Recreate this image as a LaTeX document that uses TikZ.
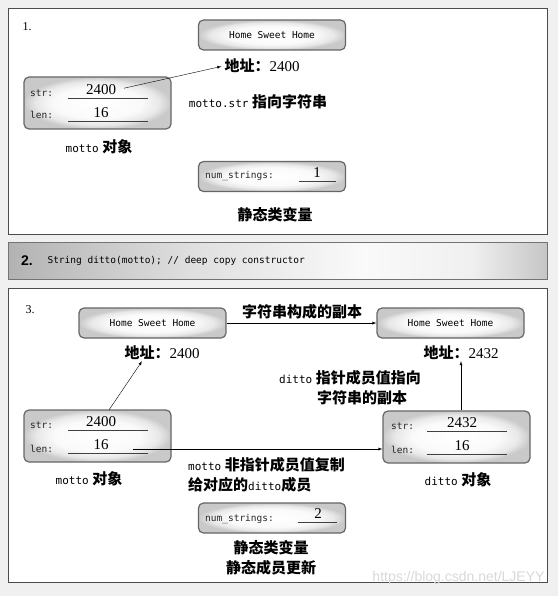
\documentclass[tikz,border=0pt]{standalone}
\usepackage{fontspec}
\setmainfont{Liberation Serif}
\setsansfont{Liberation Sans}
\setmonofont{DejaVu Sans Mono}
\newfontfamily\cjk{Noto Sans CJK SC}
\usetikzlibrary{calc,shapes,positioning}
\pgfdeclareradialshading{boxshade}{\pgfpoint{0bp}{0bp}}{color(0bp)=(white); color(15bp)=(gray!4); color(21bp)=(gray!18); color(25bp)=(gray!42); color(50bp)=(gray!42)}
\pgfdeclarehorizontalshading{barshade}{100bp}{color(0bp)=(gray!60); color(25bp)=(gray!60); color(42bp)=(gray!25); color(58bp)=(gray!4); color(68bp)=(gray!12); color(75bp)=(gray!45); color(100bp)=(gray!45)}
\newcommand\tword[1]{{\ttfamily\mdseries\fontsize{11}{13}\selectfont #1}}
\tikzset{
  panel/.style={draw=black!70, line width=0.9pt, fill=white},
  membox/.style={draw=black!60, line width=1.2pt, rounded corners=5pt, shade, shading=boxshade,
    minimum width=147pt, minimum height=52pt, inner sep=0pt},
  strbox/.style={membox, minimum height=30pt, font=\ttfamily\fontsize{9.5}{11}\selectfont},
  zh/.style={font=\cjk\bfseries\fontsize{15}{20}\selectfont, inner sep=1pt},
  valtext/.style={font=\fontsize{15}{18}\selectfont, inner sep=1pt},
  fld/.style={font=\ttfamily\fontsize{9.5}{11}\selectfont, text=black!85, inner sep=0pt},
  fieldline/.style={line width=0.9pt, draw=black!75},
}
\begin{document}
\begin{tikzpicture}[x=1pt,y=-1pt,>=latex]
  \useasboundingbox (0,0) rectangle (558,596);
  \fill[gray!12] (0,0) rectangle (558,596);
  % 1. before the copy
  \draw[panel] (8,8) rectangle (547,234);
  \node[font=\fontsize{12}{14}\selectfont] (n1) at (27,27) {1.};
  \node[strbox] (s1) at (272,35) {Home Sweet Home};
  \node[valtext] (a1) at (262,66) {{\cjk\bfseries 地址：}2400};
  \node[membox] (m1) at (97.5,103) {};
  \node[fld, anchor=west] (m1s) at (30,93) {str:};
  \node[fld, anchor=west] (m1l) at (30,115) {len:};
  \draw[fieldline] (68,98) -- (148,98);
  \draw[fieldline] (68,121) -- (148,121);
  \node[valtext, anchor=south] (m1v) at (101,96) {2400};
  \node[valtext, anchor=south] (m1n) at (101,119) {16};
  \draw[->, shorten <=7pt, shorten >=2pt] (m1v.east) -- (a1.west);
  \node[zh] (t1) at (258,102) {\tword{motto.str} 指向字符串};
  \node[zh] (c1) at (99,147) {\tword{motto} 对象};
  \node[strbox] (k1) at (272,176.5) {};
  \node[fld, anchor=west] (k1s) at (205,176) {num\_strings:};
  \draw[fieldline] (299,181) -- (336,181);
  \node[valtext, anchor=south] (k1v) at (317,179) {1};
  \node[zh] (c2) at (275,215) {静态类变量};
  % 2. the statement
  \draw[draw=black!55, line width=0.9pt, shade, shading=barshade] (8,242) rectangle (547,279);
  \node[font=\sffamily\bfseries\fontsize{14}{16}\selectfont] (n2) at (27,261) {2.};
  \node[font=\ttfamily\fontsize{9.5}{11}\selectfont, anchor=west] (code) at (44,261)
    {String ditto(motto); // deep copy constructor};
  % 3. after the copy
  \draw[panel] (8,288) rectangle (547,582);
  \node[font=\fontsize{12}{14}\selectfont] (n3) at (30,310) {3.};
  \node[strbox] (s2) at (152.5,323) {Home Sweet Home};
  \node[strbox] (s3) at (450.5,323) {Home Sweet Home};
  \draw[->] (s2) -- (s3);
  \node[zh] (c3) at (302,312) {字符串构成的副本};
  \node[valtext] (a2) at (162,353) {{\cjk\bfseries 地址：}2400};
  \node[valtext] (a3) at (461,353) {{\cjk\bfseries 地址：}2432};
  \node[membox] (m2) at (97.5,436) {};
  \node[fld, anchor=west] (m2s) at (30,425) {str:};
  \node[fld, anchor=west] (m2l) at (30,449) {len:};
  \draw[fieldline] (68,430) -- (148,430);
  \draw[fieldline] (68,453) -- (148,453);
  \node[valtext, anchor=south] (m2v) at (101,428) {2400};
  \node[valtext, anchor=south] (m2n) at (101,451) {16};
  \node[membox] (m3) at (456.5,437) {};
  \node[fld, anchor=west] (m3s) at (391,426) {str:};
  \node[fld, anchor=west] (m3l) at (391,450) {len:};
  \draw[fieldline] (427,431) -- (507,431);
  \draw[fieldline] (427,454) -- (507,454);
  \node[valtext, anchor=south] (m3v) at (462,429) {2432};
  \node[valtext, anchor=south] (m3n) at (462,452) {16};
  \coordinate (p2) at (109,410);
  \draw[->] (p2) -- ($(a2.south)+(-20,0)$);
  \draw[->] (m3.north -| a3.south) -- (a3.south);
  \coordinate (p3) at (133,449);
  \draw[->] (p3) -- (p3 -| m3.west);
  \node[zh, align=center] (c4) at (350,388)
    {\tword{ditto} 指针成员值指向\\\hspace*{24pt}字符串的副本};
  \node[zh, align=left, anchor=north west] (c5) at (187,456)
    {\tword{motto} 非指针成员值复制\\给对应的\tword{ditto}成员};
  \node[zh] (c6) at (89,479) {\tword{motto} 对象};
  \node[zh] (c7) at (458,480) {\tword{ditto} 对象};
  \node[strbox] (k2) at (272,518) {};
  \node[fld, anchor=west] (k2s) at (205,519) {num\_strings:};
  \draw[fieldline] (298,522) -- (337,522);
  \node[valtext, anchor=south] (k2v) at (318,520) {2};
  \node[zh, align=center] (c8) at (271,558) {静态类变量\\静态成员更新};
  \node[text=gray!30, font=\sffamily\fontsize{14}{16}\selectfont, anchor=east] (wm) at (548,578)
    {https://blog.csdn.net/LJEYY};
\end{tikzpicture}
\end{document}
